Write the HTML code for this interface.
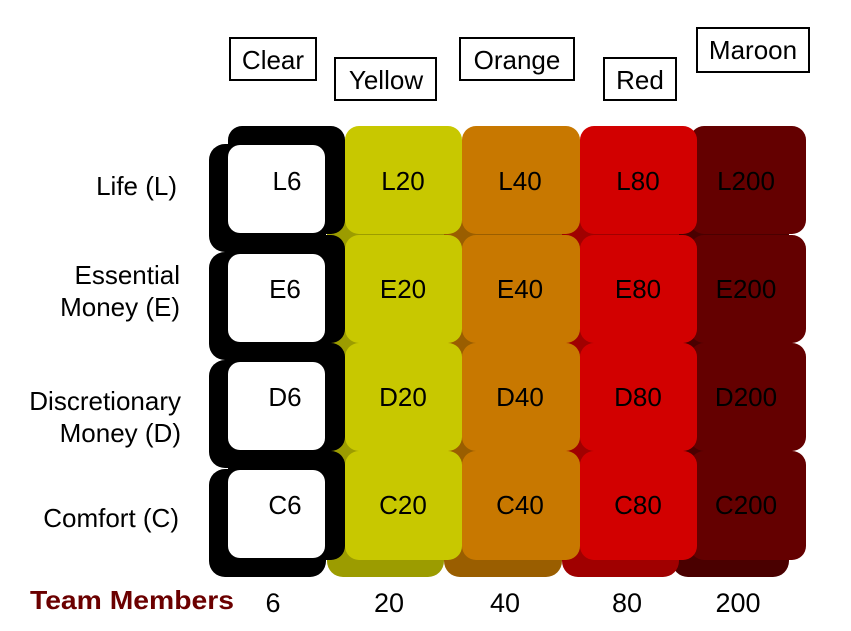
<!DOCTYPE html><html><head><style>body{margin:0;background:#fff}svg{display:block}text{font-family:"Liberation Sans",Arial,sans-serif}</style></head><body>
<svg width="851" height="631" xmlns="http://www.w3.org/2000/svg">
<g font-size="26" text-anchor="middle">
<rect x="230" y="38" width="86" height="42" fill="#fff" stroke="#000" stroke-width="2"/><text x="273" y="69">Clear</text>
<rect x="335" y="58" width="101" height="42" fill="#fff" stroke="#000" stroke-width="2"/><text x="386" y="89">Yellow</text>
<rect x="460" y="38" width="114" height="42" fill="#fff" stroke="#000" stroke-width="2"/><text x="517" y="69">Orange</text>
<rect x="604" y="58" width="72" height="42" fill="#fff" stroke="#000" stroke-width="2"/><text x="640" y="89">Red</text>
<rect x="697" y="28" width="112" height="44" fill="#fff" stroke="#000" stroke-width="2"/><text x="753" y="59">Maroon</text>
</g>
<g id="cells">
<rect x="672" y="144" width="117" height="108" rx="16" fill="#4a0000"/><rect x="690" y="126" width="116" height="108" rx="14" fill="#640000"/>
<rect x="562" y="144" width="117" height="108" rx="16" fill="#a00000"/><rect x="580" y="126" width="117" height="108" rx="14" fill="#d20000"/>
<rect x="444" y="144" width="118" height="108" rx="16" fill="#9a5e00"/><rect x="462" y="126" width="118" height="108" rx="14" fill="#c87800"/>
<rect x="327" y="144" width="117" height="108" rx="16" fill="#9c9c00"/><rect x="345" y="126" width="117" height="108" rx="14" fill="#c8c800"/>
<rect x="209" y="144" width="117" height="108" rx="16" fill="#000"/><rect x="228" y="126" width="117" height="108" rx="14" fill="#000"/><rect x="228" y="145" width="97" height="88" rx="12" fill="#fff"/>
<rect x="672" y="252" width="117" height="108" rx="16" fill="#4a0000"/><rect x="690" y="235" width="116" height="108" rx="14" fill="#640000"/>
<rect x="562" y="252" width="117" height="108" rx="16" fill="#a00000"/><rect x="580" y="235" width="117" height="108" rx="14" fill="#d20000"/>
<rect x="444" y="252" width="118" height="108" rx="16" fill="#9a5e00"/><rect x="462" y="235" width="118" height="108" rx="14" fill="#c87800"/>
<rect x="327" y="252" width="117" height="108" rx="16" fill="#9c9c00"/><rect x="345" y="235" width="117" height="108" rx="14" fill="#c8c800"/>
<rect x="209" y="252" width="117" height="108" rx="16" fill="#000"/><rect x="228" y="235" width="117" height="108" rx="14" fill="#000"/><rect x="228" y="254" width="97" height="88" rx="12" fill="#fff"/>
<rect x="672" y="360" width="117" height="108" rx="16" fill="#4a0000"/><rect x="690" y="343" width="116" height="108" rx="14" fill="#640000"/>
<rect x="562" y="360" width="117" height="108" rx="16" fill="#a00000"/><rect x="580" y="343" width="117" height="108" rx="14" fill="#d20000"/>
<rect x="444" y="360" width="118" height="108" rx="16" fill="#9a5e00"/><rect x="462" y="343" width="118" height="108" rx="14" fill="#c87800"/>
<rect x="327" y="360" width="117" height="108" rx="16" fill="#9c9c00"/><rect x="345" y="343" width="117" height="108" rx="14" fill="#c8c800"/>
<rect x="209" y="360" width="117" height="108" rx="16" fill="#000"/><rect x="228" y="343" width="117" height="108" rx="14" fill="#000"/><rect x="228" y="362" width="97" height="88" rx="12" fill="#fff"/>
<rect x="672" y="469" width="117" height="108" rx="16" fill="#4a0000"/><rect x="690" y="451" width="116" height="109" rx="14" fill="#640000"/>
<rect x="562" y="469" width="117" height="108" rx="16" fill="#a00000"/><rect x="580" y="451" width="117" height="109" rx="14" fill="#d20000"/>
<rect x="444" y="469" width="118" height="108" rx="16" fill="#9a5e00"/><rect x="462" y="451" width="118" height="109" rx="14" fill="#c87800"/>
<rect x="327" y="469" width="117" height="108" rx="16" fill="#9c9c00"/><rect x="345" y="451" width="117" height="109" rx="14" fill="#c8c800"/>
<rect x="209" y="469" width="117" height="108" rx="16" fill="#000"/><rect x="228" y="451" width="117" height="109" rx="14" fill="#000"/><rect x="228" y="470" width="97" height="88" rx="12" fill="#fff"/>
</g>
<g font-size="26" text-anchor="middle" fill="#000">
<text x="287" y="190">L6</text><text x="403" y="190">L20</text><text x="520" y="190">L40</text><text x="638" y="190">L80</text><text x="746" y="190">L200</text>
<text x="285" y="298">E6</text><text x="403" y="298">E20</text><text x="520" y="298">E40</text><text x="638" y="298">E80</text><text x="746" y="298">E200</text>
<text x="285" y="406">D6</text><text x="403" y="406">D20</text><text x="520" y="406">D40</text><text x="638" y="406">D80</text><text x="746" y="406">D200</text>
<text x="285" y="514">C6</text><text x="403" y="514">C20</text><text x="520" y="514">C40</text><text x="638" y="514">C80</text><text x="746" y="514">C200</text>
</g>
<g font-size="26" text-anchor="end" fill="#000">
<text x="177" y="195">Life (L)</text>
<text x="180" y="284">Essential</text><text x="180" y="316">Money (E)</text>
<text x="181" y="410">Discretionary</text><text x="181" y="442">Money (D)</text>
<text x="179" y="527">Comfort (C)</text>
</g>
<text x="30" y="609" font-size="26" font-weight="bold" fill="#6b0000" textLength="204" lengthAdjust="spacingAndGlyphs">Team Members</text>
<g font-size="27" text-anchor="middle">
<text x="273" y="612">6</text><text x="389" y="612">20</text><text x="505" y="612">40</text><text x="627" y="612">80</text><text x="738" y="612">200</text>
</g>
</svg>
</body></html>
